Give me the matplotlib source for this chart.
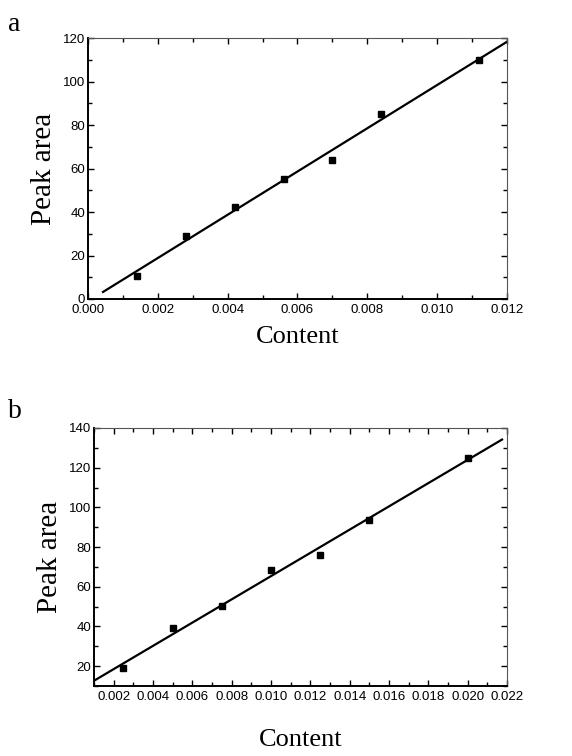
import numpy as np
import matplotlib
matplotlib.use("Agg")
from matplotlib import pyplot as plt
from matplotlib.ticker import MultipleLocator

# calibration set a
content_a = [0.0014, 0.0028, 0.0042, 0.0056, 0.0070, 0.0084, 0.0112]
area_a = [10.7, 29.0, 42.2, 55.4, 64.0, 85.1, 110.0]

# calibration set b
content_b = [0.0025, 0.0050, 0.0075, 0.0100, 0.0125, 0.0150, 0.0200]
area_b = [19.2, 39.1, 50.4, 68.5, 76.0, 93.8, 125.1]

serif = ['Liberation Serif', 'DejaVu Serif']
sans = ['Liberation Sans', 'DejaVu Sans']


def draw_panel(ax, x, y, fit_range, xlim, ylim, xmaj, ymaj, xpad):
    k, b = np.polyfit(x, y, 1)
    xs = np.array(fit_range)
    ax.plot(xs, k * xs + b, color='black', lw=1.6)
    ax.plot(x, y, 's', color='black', ms=5)

    ax.set_xlim(*xlim)
    ax.set_ylim(*ylim)
    ax.xaxis.set_major_locator(MultipleLocator(xmaj))
    ax.xaxis.set_minor_locator(MultipleLocator(xmaj / 2))
    ax.yaxis.set_major_locator(MultipleLocator(ymaj))
    ax.yaxis.set_minor_locator(MultipleLocator(ymaj / 2))
    ax.xaxis.set_major_formatter(plt.FuncFormatter(lambda v, p: '%.3f' % v))

    ax.tick_params(which='both', direction='in', top=True, right=True,
                   labelsize=9.5, width=1.0)
    ax.tick_params(axis='x', pad=3.5)
    ax.tick_params(axis='y', pad=2)
    ax.tick_params(which='major', length=4)
    ax.tick_params(which='minor', length=3)
    for lbl in ax.get_xticklabels() + ax.get_yticklabels():
        lbl.set_family(sans)

    ax.spines['left'].set_linewidth(1.4)
    ax.spines['bottom'].set_linewidth(1.4)
    ax.spines['top'].set_linewidth(0.8)
    ax.spines['right'].set_linewidth(0.8)
    ax.spines['top'].set_color('#555555')
    ax.spines['right'].set_color('#555555')

    ax.set_ylabel('Peak area', family=serif, fontsize=21, labelpad=4)
    ax.set_xlabel('Content', family=serif, fontsize=19, labelpad=xpad)


fig = plt.figure(figsize=(5.72, 7.56), dpi=100)

ax1 = fig.add_axes([0.1538, 0.6045, 0.7325, 0.3452])
draw_panel(ax1, content_a, area_a, [0.00043, 0.012], (0, 0.012), (0, 120),
           0.002, 20, 7)

ax2 = fig.add_axes([0.1643, 0.0926, 0.7220, 0.3413])
draw_panel(ax2, content_b, area_b, [0.001, 0.02175], (0.001, 0.022), (10, 140),
           0.002, 20, 19)

fig.text(0.014, 0.967, 'a', family=serif, fontsize=20, va='center')
fig.text(0.014, 0.456, 'b', family=serif, fontsize=20, va='center')

plt.savefig('out.png', dpi=100)
